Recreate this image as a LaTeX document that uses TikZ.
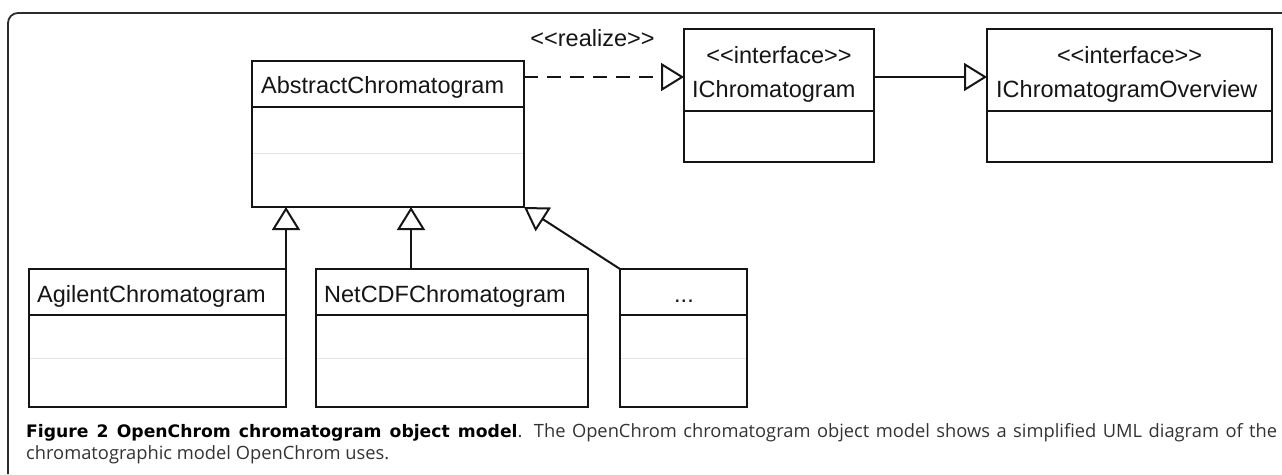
\documentclass[tikz,border=0pt]{standalone}
\usepackage{fontspec}
\setmainfont{Liberation Sans}[Ligatures=TeXOff]
\newfontfamily\capfont{Open Sans}[Ligatures=TeXOff]
\newfontfamily\capbold{DejaVu Sans Bold}
\usetikzlibrary{arrows.meta,calc}
\definecolor{ink}{HTML}{151515}
\definecolor{lightsep}{HTML}{E4E4E4}
\begin{document}
\begin{tikzpicture}[x=1pt,y=-1pt,
  umlbox/.style={draw=ink, line width=2pt, rectangle, inner sep=0pt, outer sep=0pt, anchor=north west},
  umltext/.style={inner sep=0pt, font=\fontsize{23.5}{28}\selectfont, text=ink},
  hsep/.style={draw=ink, line width=2pt},
  lsep/.style={draw=lightsep, line width=1pt},
  conn/.style={draw=ink, line width=2pt},
  opentri/.style={-{Triangle[open, length=23pt, width=28pt, line width=2pt]}},
  frameline/.style={draw=ink!90, line width=1.8pt, rounded corners=10pt},
  captext/.style={inner sep=0pt, anchor=base west, font=\capfont\fontsize{18.3}{22}\selectfont, text=black!80}
]
\useasboundingbox (0,0) rectangle (1282,474);
% frame
\draw[frameline] (8,474) -- (8,13) -- (1282,13);

% boxes
\node[umlbox, minimum width=272pt, minimum height=146pt] (abs) at (252,61) {};
\node[umlbox, minimum width=190pt, minimum height=133pt] (ichrom) at (684,29) {};
\node[umlbox, minimum width=285pt, minimum height=133pt] (over) at (987,29) {};
\node[umlbox, minimum width=257pt, minimum height=138pt] (agil) at (29,269) {};
\node[umlbox, minimum width=272pt, minimum height=138pt] (net) at (316,269) {};
\node[umlbox, minimum width=127pt, minimum height=138pt] (dots) at (620,269) {};

% separators
\draw[lsep] ($(abs.north west)+(1,92)$) -- ($(abs.north east)+(-1,92)$);
\draw[hsep] ($(abs.north west)+(0,46)$) -- ($(abs.north east)+(0,46)$);
\draw[hsep] ($(ichrom.north west)+(0,82)$) -- ($(ichrom.north east)+(0,82)$);
\draw[hsep] ($(over.north west)+(0,82)$) -- ($(over.north east)+(0,82)$);
\foreach \b in {agil,net,dots}{
  \draw[lsep] ($(\b.north west)+(1,89)$) -- ($(\b.north east)+(-1,89)$);
  \draw[hsep] ($(\b.north west)+(0,46)$) -- ($(\b.north east)+(0,46)$);
}

% texts
\node[umltext, anchor=base west] (absname) at (261,93) {AbstractChromatogram};
\node[umltext, anchor=base] (ichromst) at (779,63) {<{}<interface>{}>};
\node[umltext, anchor=base west] (ichromname) at (692,97) {IChromatogram};
\node[umltext, anchor=base] (overst) at (1129.5,63) {<{}<interface>{}>};
\node[umltext, anchor=base west] (overname) at (996,97) {IChromatogramOverview};
\node[umltext, anchor=base west] (agilname) at (37,302) {AgilentChromatogram};
\node[umltext, anchor=base west] (netname) at (324,302) {NetCDFChromatogram};
\node[umltext, anchor=base] (dotsname) at (684,302) {...};
\node[umltext, anchor=base] (realize) at (592.5,46.5) {<{}<realize>{}>};

% connectors
\draw[conn, opentri, dash pattern=on 14pt off 9pt] ($(abs.north east)+(0,16)$) -- ($(ichrom.north west)+(0,48)$);
\draw[conn, opentri] ($(ichrom.north east)+(0,48)$) -- ($(over.north west)+(0,48)$);
\draw[conn, opentri] (agil.north east) -- (agil.north east |- abs.south);
\coordinate (netc) at ($(net.north west)+(95,0)$);
\draw[conn, opentri] (netc) -- (netc |- abs.south);
\draw[conn, opentri] (dots.north west) -- (abs.south east);

% caption
\node[captext] (cap1) at (26,437.5)
  {\makebox[1251pt][s]{{\capbold\fontsize{17.2}{22}\selectfont\color{black}Figure 2 OpenChrom chromatogram object model}. The OpenChrom chromatogram object model shows a simplified UML diagram of the}};
\node[captext] (cap2) at (26,459)
  {chromatographic model OpenChrom uses.};
\end{tikzpicture}
\end{document}
